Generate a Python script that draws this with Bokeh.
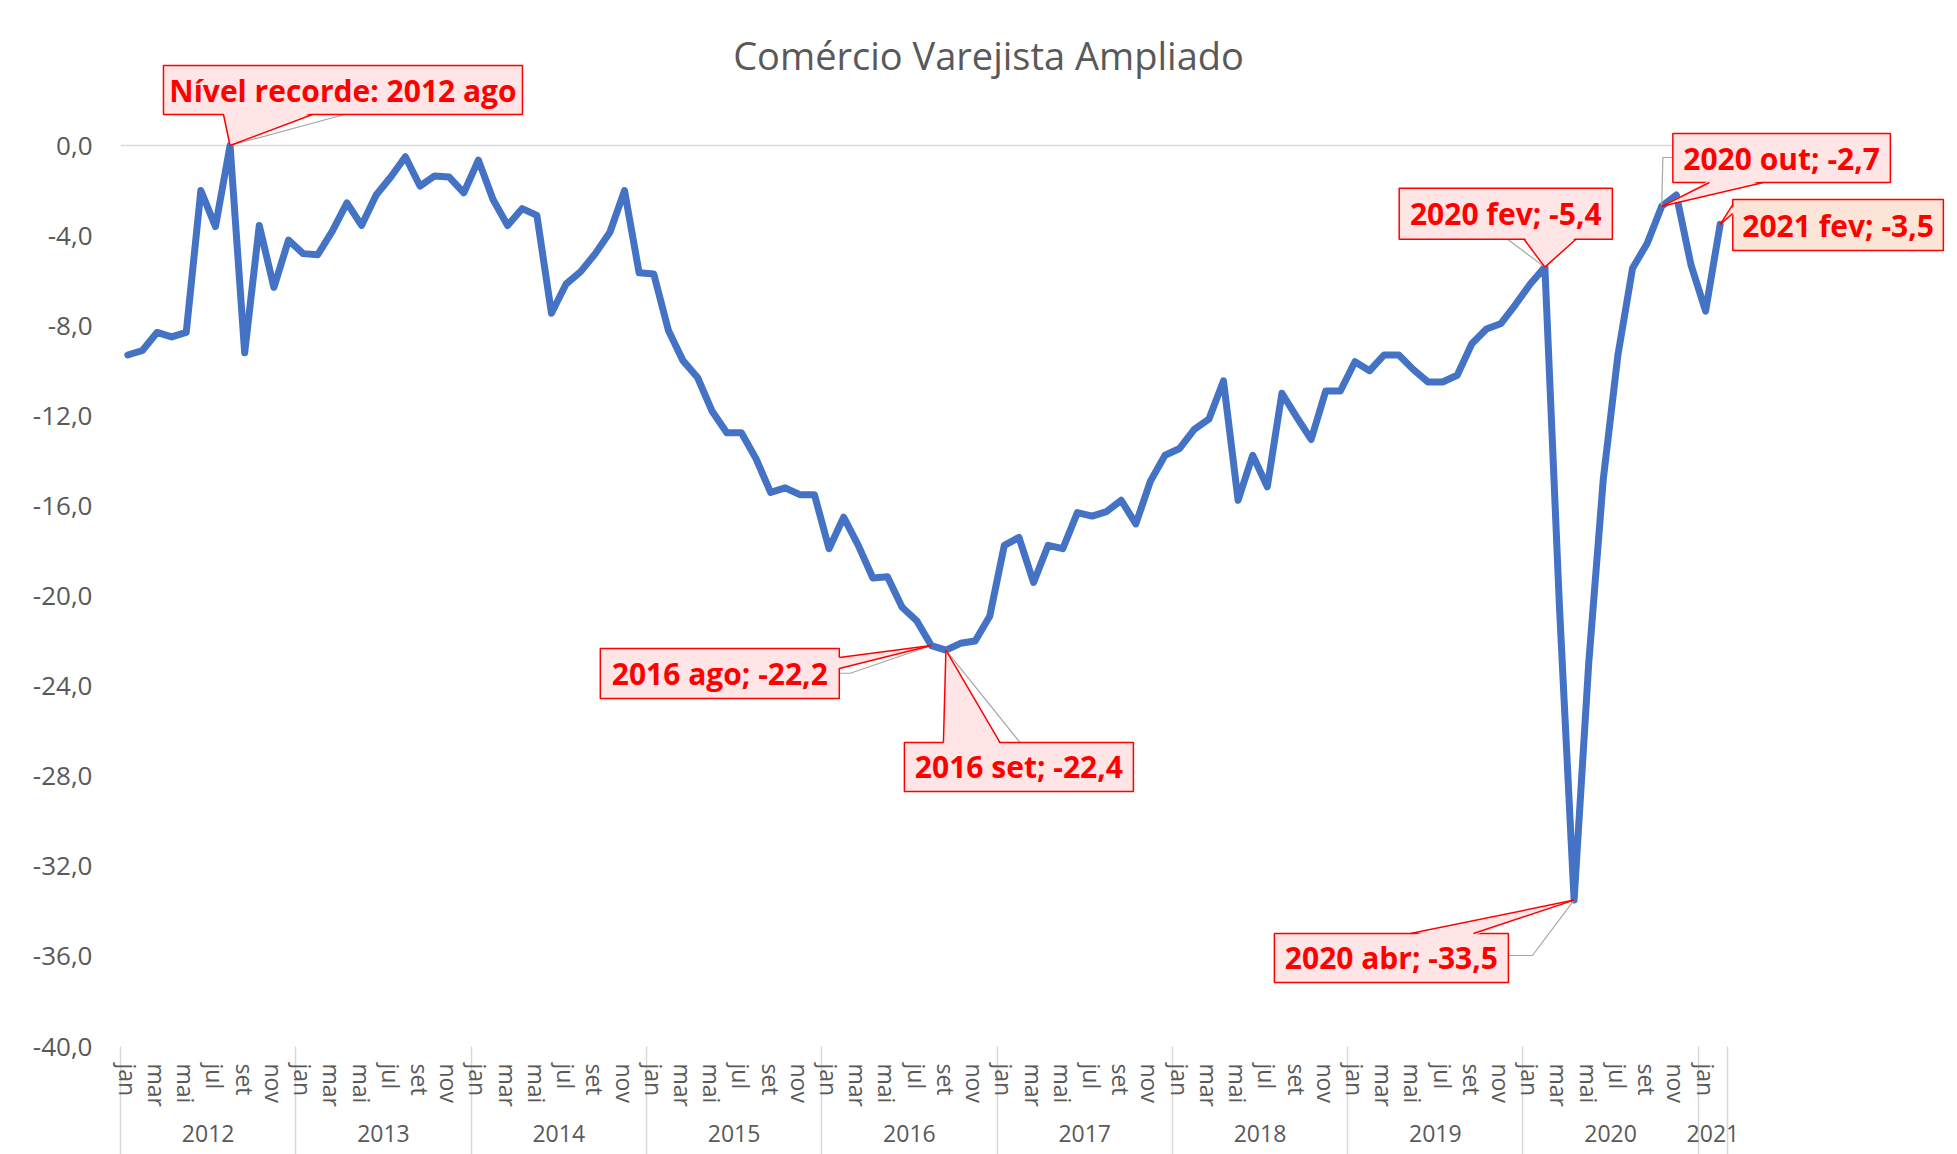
import numpy as np
from bokeh.plotting import figure
from bokeh.models import LinearAxis, FixedTicker, Range1d, Label
from bokeh.core.properties import value
from bokeh.embed import file_html
from bokeh.resources import INLINE

# ---------------- data ----------------
years = [2012, 2013, 2014, 2015, 2016, 2017, 2018, 2019, 2020, 2021]
month_names = ["jan", "fev", "mar", "abr", "mai", "jun", "jul", "ago", "set", "out", "nov", "dez"]

v2012 = [-9.3, -9.1, -8.3, -8.5, -8.3, -2.0, -3.6, 0.0, -9.2, -3.55, -6.3, -4.2]
v2013 = [-4.8, -4.85, -3.8, -2.55, -3.55, -2.2, -1.4, -0.5, -1.8, -1.35, -1.4, -2.1]
v2014 = [-0.65, -2.4, -3.55, -2.8, -3.1, -7.45, -6.15, -5.6, -4.8, -3.85, -2.0, -5.65]
v2015 = [-5.7, -8.2, -9.55, -10.3, -11.8, -12.75, -12.75, -13.9, -15.4, -15.2, -15.5, -15.5]
v2016 = [-17.9, -16.5, -17.75, -19.2, -19.15, -20.5, -21.1, -22.2, -22.4, -22.1, -22.0, -20.9]
v2017 = [-17.75, -17.4, -19.4, -17.75, -17.9, -16.3, -16.45, -16.25, -15.75, -16.8, -14.9, -13.75]
v2018 = [-13.45, -12.6, -12.15, -10.45, -15.75, -13.75, -15.15, -11.0, -12.05, -13.05, -10.9, -10.9]
v2019 = [-9.6, -10.0, -9.3, -9.3, -9.95, -10.5, -10.5, -10.2, -8.8, -8.15, -7.9, -7.05]
v2020 = [-6.15, -5.4, -20.5, -33.5, -23.0, -14.8, -9.3, -5.45, -4.35, -2.7, -2.2, -5.3]
v2021 = [-7.35, -3.5]

yearly = [v2012, v2013, v2014, v2015, v2016, v2017, v2018, v2019, v2020, v2021]
series = [v for yv in yearly for v in yv]
cats = [(y, month_names[k]) for y, yv in zip(years, yearly) for k in range(len(yv))]
n = len(series)
xs = [i + 0.5 for i in range(n)]

y_ticks = list(range(0, -41, -4))

# callouts: (year, month, custom text, box l/r/t/b px rel. to point, pointer base px, leader px, fill)
callouts = [
    (2012, "ago", "Nível recorde: 2012 ago", (-66.6, 292.4, -80, -31),
     [(-6.6, -31), (82.4, -31)], [(114.4, -31), (0, 0)], "#FFE5E5"),
    (2016, "ago", None, (-331, -92, 3, 53),
     [(-92, 12), (-92, 23)], [(-92, 27.7), (-81, 27.7), (0, 0)], "#FFE5E5"),
    (2016, "set", None, (-41.5, 187.5, 92.4, 141.4),
     [(-2.5, 92.4), (54, 92.4)], [(74, 92.4), (0, 0)], "#FFE5E5"),
    (2020, "abr", None, (-299.7, -65.7, 33.4, 82.4),
     [(-163.7, 33.4), (-100.7, 33.4)], [(-65.7, 55.4), (-41.7, 55.4), (0, 0)], "#FFE5E5"),
    (2020, "fev", None, (-145.7, 67.5, -78.9, -27.9),
     [(-20.8, -27.9), (31, -27.9)], [(-37.5, -27.9), (0, 0)], "#FFE5E5"),
    (2020, "out", None, (11.1, 228.6, -72.8, -23.8),
     [(47.6, -23.8), (101.6, -23.8)], [(11.1, -48.8), (1.1, -48.8), (0, 0)], "#FFE5E5"),
    (2021, "fev", None, (12.6, 223.2, -24.8, 26.2),
     [(12.6, -19.8), (12.6, -10.8)], [], "#FCE4D6"),
]

# ---------------- layout ----------------
W, H = 1957, 1154
FRAME_L = 120
FRAME_B = 108
PXM = 14.609   # px per month
PXU = 22.525   # px per unit
frame_w = W - FRAME_L
frame_h = H - FRAME_B
x_end = frame_w / PXM
y_end = -40 + frame_h / PXU

GRAY = "#595959"
FONT = "Open Sans"

p = figure(width=W, height=H, x_range=Range1d(0, x_end), y_range=Range1d(-40, y_end),
           output_backend="svg", toolbar_location=None, x_axis_location=None,
           min_border_left=FRAME_L, min_border_right=0, min_border_top=0,
           min_border_bottom=FRAME_B)
p.outline_line_color = None
p.xgrid.visible = False
p.ygrid.visible = False
p.background_fill_color = "white"
p.border_fill_color = "white"

# y axis
yax = p.yaxis[0]
yax.ticker = FixedTicker(ticks=y_ticks)
yax.major_label_overrides = {t: f"{t:.1f}".replace(".", ",") for t in y_ticks}
yax.axis_line_color = None
yax.major_tick_line_color = None
yax.minor_tick_line_color = None
yax.major_tick_out = 0
yax.minor_tick_out = 0
yax.major_label_standoff = 28
yax.major_label_text_font = FONT
yax.major_label_text_font_size = "26px"
yax.major_label_text_color = GRAY

# year boundaries (separators)
bounds = [0]
for yv in yearly:
    bounds.append(bounds[-1] + len(yv))
centers = [(bounds[k] + bounds[k + 1]) / 2 for k in range(len(years))]

# month labels axis; separators drawn as its minor ticks down to the bottom
SEP_LEN = FRAME_B
mt = [xs[i] for i in range(n) if i % 2 == 0]
month_axis = LinearAxis(
    ticker=FixedTicker(ticks=mt, minor_ticks=[float(b) for b in bounds]),
    major_label_overrides={xs[i]: cats[i][1] for i in range(n) if i % 2 == 0},
    major_label_orientation="vertical", major_label_standoff=17 - SEP_LEN,
    major_tick_out=0, major_tick_in=0, major_tick_line_color=None,
    minor_tick_line_color="#D9D9D9", minor_tick_line_width=1.5,
    minor_tick_in=0, minor_tick_out=SEP_LEN, axis_line_color=None,
    major_label_text_font=FONT, major_label_text_font_size="23px",
    major_label_text_color=GRAY)
p.add_layout(month_axis, "below")

# year labels axis
year_axis = LinearAxis(
    ticker=FixedTicker(ticks=centers),
    major_label_overrides={c: str(y) for c, y in zip(centers, years)},
    major_label_standoff=15, major_tick_out=0, major_tick_in=0, minor_tick_out=0,
    major_tick_line_color=None, minor_tick_line_color=None, axis_line_color=None,
    major_label_text_font=FONT, major_label_text_font_size="23px",
    major_label_text_color=GRAY)
p.add_layout(year_axis, "below")

# zero line
p.line(x=[0, n], y=[0, 0], line_color="#D9D9D9", line_width=1.5)

# main series
p.line(x=xs, y=series, line_color="#4472C4", line_width=7,
       line_join="round", line_cap="round")

# title
p.add_layout(Label(x=(988 - FRAME_L) / PXM, y=(145 - 54) / PXU, text="Comércio Varejista Ampliado",
                   text_align="center", text_baseline="middle", text_font=FONT,
                   text_font_size="38px", text_color=GRAY))


def fmt(v):
    return f"{v:.1f}".replace(".", ",")


for (yr, mo, txt, box, base, leader, fill) in callouts:
    i = cats.index((yr, mo))
    x0, y0 = xs[i], series[i]

    def D(dx, dy):
        return x0 + dx / PXM, y0 - dy / PXU

    l, r, t, b = box
    if leader:
        pts = [D(*q) for q in leader]
        p.line(x=[q[0] for q in pts], y=[q[1] for q in pts], line_color="#A6A6A6", line_width=1.2)
    (bl, bt), (br, bb) = D(l, t), D(r, b)
    p.quad(left=[bl], right=[br], top=[bt], bottom=[bb], fill_color=fill,
           line_color="#FF0000", line_width=1.5)
    # pointer
    ins = []
    for (dx, dy) in base:
        if abs(dy - b) < 0.01:
            ins.append((dx, dy - 2))
        elif abs(dy - t) < 0.01:
            ins.append((dx, dy + 2))
        elif abs(dx - r) < 0.01:
            ins.append((dx - 2, dy))
        else:
            ins.append((dx + 2, dy))
    tri = [D(*ins[0]), D(*ins[1]), D(0, 0)]
    p.patch(x=[q[0] for q in tri], y=[q[1] for q in tri], fill_color=fill, line_color=None)
    e1, e2, tip = D(*base[0]), D(*base[1]), D(0, 0)
    p.multi_line(xs=[[e1[0], tip[0]], [e2[0], tip[0]]], ys=[[e1[1], tip[1]], [e2[1], tip[1]]],
                 line_color="#FF0000", line_width=1.5)
    label = txt if txt else f"{yr} {mo}; {fmt(series[i])}"
    cx, cy = D((l + r) / 2, (t + b) / 2)
    p.text(x=[cx], y=[cy], text=[label], text_align="center", text_baseline="middle",
           text_font=value(FONT), text_font_style="bold", text_font_size="30px",
           text_color="#FF0000")

open("out.html", "w").write(file_html(p, INLINE))
